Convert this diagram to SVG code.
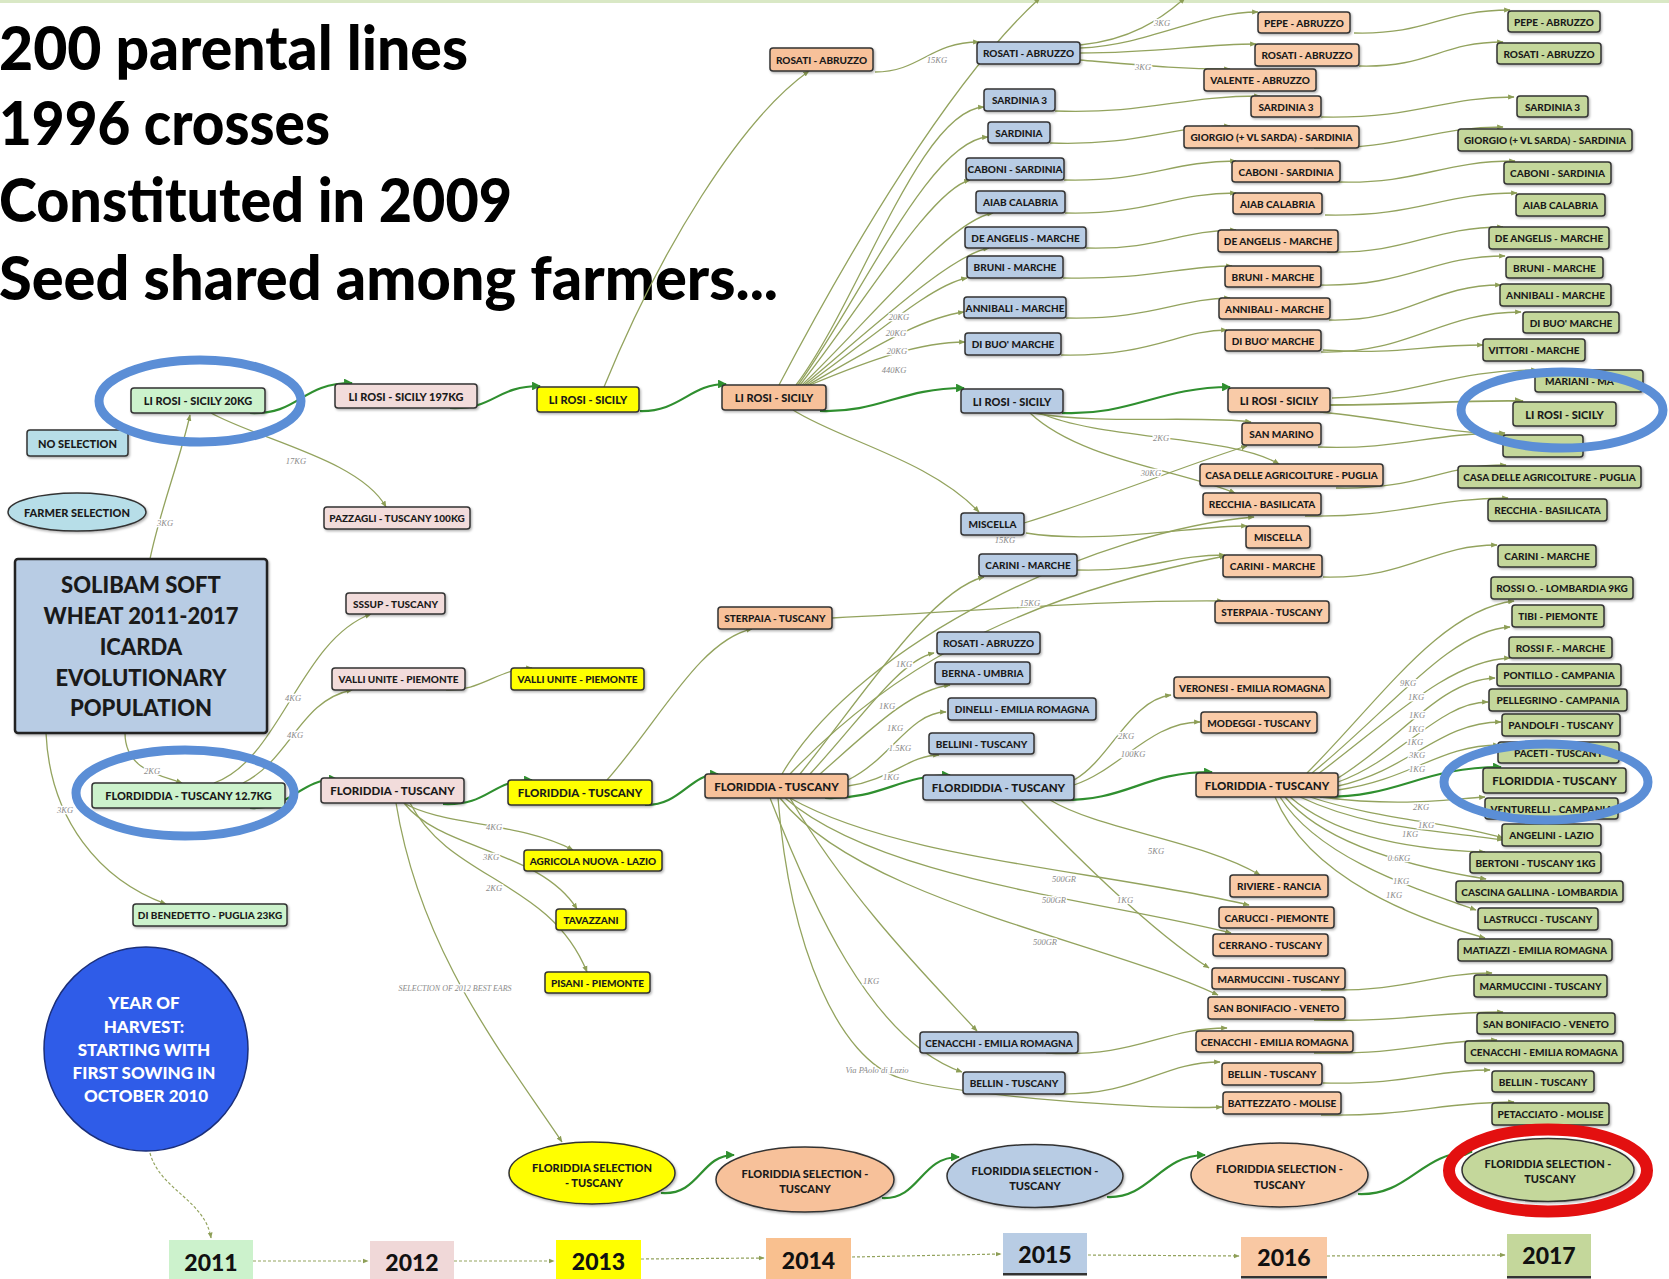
<svg xmlns="http://www.w3.org/2000/svg" width="1669" height="1279" viewBox="0 0 1669 1279">
<style>
.t{font-family:Lato,"Liberation Sans",sans-serif;font-weight:900;font-size:10px;fill:#1a1a1a;text-anchor:middle;dominant-baseline:central}
.tm{font-size:11px}
.tb{font-size:11.5px}
.b{stroke:#333;stroke-width:1.5;filter:url(#sh)}
.c11{fill:#ccf2cc}.c12{fill:#f2dcdb}.c13{fill:#ffff00}.c14{fill:#f7c19a}.c15{fill:#b8cce4}.c16{fill:#f9cba8}.c17{fill:#c4d79b}.cs{fill:#b7dee8}
.e{fill:none;stroke:#93a35e;stroke-width:1.3;marker-end:url(#a)}
.m{fill:none;stroke:#2f8f2f;stroke-width:2.2;marker-end:url(#g)}
.d{fill:none;stroke:#93a35e;stroke-width:1.2;stroke-dasharray:3 2;marker-end:url(#a)}
.l{font-family:"Liberation Serif",serif;font-style:italic;font-size:8.5px;fill:#8a8a8a;text-anchor:middle;dominant-baseline:central;stroke:#fff;stroke-width:2.5;paint-order:stroke}
.title{font-family:Lato,"Liberation Sans",sans-serif;font-weight:900;font-size:60px;fill:#000}
.yr{font-family:Lato,"Liberation Sans",sans-serif;font-weight:900;font-size:23px;fill:#111;text-anchor:middle}
.ring{fill:none;stroke:#5b8ed6;stroke-width:9}
</style>
<defs>
<marker id="a" viewBox="0 0 10 10" refX="9" refY="5" markerWidth="5" markerHeight="5" orient="auto"><path d="M0,1 L10,5 L0,9 z" fill="#8d9e56"/></marker>
<marker id="g" viewBox="0 0 10 10" refX="9" refY="5" markerWidth="4" markerHeight="4" orient="auto"><path d="M0,0 L10,5 L0,10 z" fill="#2f8f2f"/></marker>
<filter id="sh" x="-10%" y="-20%" width="130%" height="160%"><feDropShadow dx="1.2" dy="1.5" stdDeviation="1" flood-color="#000" flood-opacity="0.3"/></filter>
</defs>
<rect x="0" y="0" width="1669" height="1279" fill="#fff"/>
<rect x="0" y="0" width="1669" height="3" fill="#d9e8c5"/>

<g id="title">
<text class="title" x="-1" y="70" textLength="469" lengthAdjust="spacingAndGlyphs">200 parental lines</text>
<text class="title" x="-1" y="145" textLength="331" lengthAdjust="spacingAndGlyphs">1996 crosses</text>
<text class="title" x="-1" y="222" textLength="513" lengthAdjust="spacingAndGlyphs">Constituted in 2009</text>
<text class="title" x="-1" y="300" textLength="779" lengthAdjust="spacingAndGlyphs">Seed shared among farmers...</text>
</g>

<g id="connectors">
<path class="m" d="M250 413 C300 415,300 383,352 383"/>
<path class="m" d="M450 408 C495 410,495 386,540 386"/>
<path class="m" d="M640 411 C680 412,690 384,726 384"/>
<path class="m" d="M820 411 C880 413,900 388,964 388"/>
<path class="m" d="M1062 413 C1130 416,1160 387,1230 387"/>
<path class="m" d="M250 808 C290 810,300 779,337 779"/>
<path class="m" d="M443 804 C490 806,490 780,532 780"/>
<path class="m" d="M645 805 C680 806,690 774,718 774"/>
<path class="m" d="M825 798 C880 800,900 775,950 775"/>
<path class="m" d="M1055 800 C1130 802,1140 772,1212 772"/>
<path class="m" d="M1320 797 C1400 798,1420 767,1501 767"/>
<path class="m" d="M661 1193 C700 1196,700 1155,734 1155"/>
<path class="m" d="M882 1198 C920 1200,920 1157,959 1157"/>
<path class="m" d="M1107 1197 C1150 1199,1160 1155,1205 1155"/>
<path class="m" d="M1358 1194 C1410 1196,1420 1152,1472 1152"/>
<path class="e" d="M150 559 C160 510,180 460,190 415"/>
<path class="e" d="M211 413 C260 440,360 460,386 507"/>
<path class="e" d="M125 733 C125 770,160 775,182 783"/>
<path class="e" d="M46 733 C50 820,100 880,166 904"/>
<path class="e" d="M214 783 C280 760,300 640,371 614"/>
<path class="e" d="M243 783 C290 760,300 700,352 690"/>
<path class="e" d="M446 690 C480 692,500 668,532 668"/>
<path class="e" d="M404 803 C440 825,520 822,573 850"/>
<path class="e" d="M404 803 C440 850,540 850,577 909"/>
<path class="e" d="M410 803 C450 880,550 880,587 972"/>
<path class="e" d="M396 803 C420 950,500 1050,562 1142"/>
<path class="e" d="M604 387 C660 250,740 120,809 71"/>
<path class="e" d="M607 780 C660 720,700 640,752 629"/>
<path class="e" d="M875 72 C920 72,930 42,979 42"/>
<path class="e" d="M779 385 C850 250,950 80,1040 -2"/>
<path class="e" d="M796 385 C860 300,920 110,984 107"/>
<path class="e" d="M798 385 C860 300,930 140,988 137"/>
<path class="e" d="M800 385 C860 310,930 190,970 180"/>
<path class="e" d="M802 385 C870 320,950 220,993 213"/>
<path class="e" d="M804 385 C870 330,950 255,989 248"/>
<path class="e" d="M806 385 C870 340,930 285,967 278"/>
<path class="e" d="M808 385 C870 350,920 318,964 312"/>
<path class="e" d="M810 385 C870 360,920 342,965 342"/>
<path class="e" d="M793 410 C840 440,930 460,979 512"/>
<path class="e" d="M832 618 C1000 610,1100 600,1223 601"/>
<path class="e" d="M782 774 C860 640,1100 530,1254 517"/>
<path class="e" d="M790 774 C880 680,1000 600,1225 556"/>
<path class="e" d="M800 774 C860 700,930 590,984 577"/>
<path class="e" d="M810 774 C860 720,900 660,934 653"/>
<path class="e" d="M820 774 C870 730,910 690,950 685"/>
<path class="e" d="M848 780 C890 760,910 712,946 712"/>
<path class="e" d="M848 786 C890 780,910 755,939 755"/>
<path class="e" d="M790 798 C850 900,930 980,977 1031"/>
<path class="e" d="M770 798 C810 900,870 1040,962 1072"/>
<path class="e" d="M778 798 C790 950,840 1060,900 1078 S1150 1110,1222 1107"/>
<path class="e" d="M790 798 C900 860,1100 870,1249 905"/>
<path class="e" d="M785 798 C880 880,1100 900,1231 933"/>
<path class="e" d="M780 798 C860 900,1100 940,1218 995"/>
<path class="e" d="M1080 48 C1150 45,1200 12,1258 12"/>
<path class="e" d="M1080 53 C1160 53,1200 44,1256 44"/>
<path class="e" d="M1080 60 C1150 66,1180 69,1230 69"/>
<path class="e" d="M1080 45 C1130 40,1160 20,1185 -2"/>
<path class="e" d="M1055 111 C1150 114,1180 96,1260 96"/>
<path class="e" d="M1050 143 C1140 146,1170 126,1230 126"/>
<path class="e" d="M1064 180 C1150 182,1170 161,1236 161"/>
<path class="e" d="M1065 213 C1150 215,1170 193,1236 193"/>
<path class="e" d="M1086 248 C1160 250,1180 230,1236 230"/>
<path class="e" d="M1063 278 C1150 280,1180 266,1232 266"/>
<path class="e" d="M1066 318 C1150 320,1180 298,1230 298"/>
<path class="e" d="M1061 355 C1150 357,1180 330,1227 330"/>
<path class="e" d="M1033 413 C1100 425,1200 415,1251 422"/>
<path class="e" d="M1040 413 C1100 440,1230 435,1279 464"/>
<path class="e" d="M1030 413 C1080 460,1180 470,1235 493"/>
<path class="e" d="M1024 523 C1100 500,1200 460,1247 446"/>
<path class="e" d="M1026 533 C1100 545,1200 525,1247 526"/>
<path class="e" d="M1077 570 C1150 572,1170 555,1225 555"/>
<path class="e" d="M1074 780 C1110 760,1130 700,1171 695"/>
<path class="e" d="M1074 785 C1120 770,1150 722,1200 722"/>
<path class="e" d="M1050 800 C1100 830,1200 840,1260 875"/>
<path class="e" d="M1021 800 C1080 860,1150 930,1209 968"/>
<path class="e" d="M1046 1053 C1140 1058,1160 1028,1227 1028"/>
<path class="e" d="M1055 1094 C1140 1096,1160 1062,1220 1062"/>
<path class="e" d="M1354 33 C1430 35,1440 10,1510 10"/>
<path class="e" d="M1359 66 C1430 68,1440 42,1503 42"/>
<path class="e" d="M1321 117 C1420 119,1440 97,1514 97"/>
<path class="e" d="M1314 148 C1400 150,1430 127,1503 127"/>
<path class="e" d="M1339 182 C1420 184,1440 161,1515 161"/>
<path class="e" d="M1325 215 C1420 217,1440 193,1517 193"/>
<path class="e" d="M1327 252 C1410 254,1430 227,1503 227"/>
<path class="e" d="M1318 285 C1410 287,1430 256,1505 256"/>
<path class="e" d="M1329 320 C1410 322,1430 285,1501 285"/>
<path class="e" d="M1321 352 C1410 354,1440 312,1521 312"/>
<path class="e" d="M1323 350 C1400 355,1420 345,1483 345"/>
<path class="e" d="M1332 398 C1420 395,1450 370,1537 370"/>
<path class="e" d="M1330 405 C1420 405,1450 400,1523 401" style="stroke-width:1.8"/>
<path class="e" d="M1320 412 C1400 420,1440 432,1505 435"/>
<path class="e" d="M1318 447 C1400 450,1430 433,1505 433"/>
<path class="e" d="M1336 488 C1420 490,1440 465,1506 465"/>
<path class="e" d="M1305 516 C1400 518,1430 498,1508 498"/>
<path class="e" d="M1323 577 C1410 579,1430 545,1497 545"/>
<path class="e" d="M1307 773 C1380 700,1440 610,1514 601"/>
<path class="e" d="M1312 773 C1390 710,1450 630,1510 627"/>
<path class="e" d="M1318 774 C1390 720,1450 660,1510 658"/>
<path class="e" d="M1338 778 C1400 740,1440 680,1495 678"/>
<path class="e" d="M1338 782 C1400 760,1440 702,1488 702"/>
<path class="e" d="M1338 786 C1410 770,1440 722,1501 722"/>
<path class="e" d="M1338 790 C1410 780,1440 745,1499 745"/>
<path class="e" d="M1320 797 C1400 807,1440 800,1485 797"/>
<path class="e" d="M1310 797 C1380 820,1450 822,1503 838"/>
<path class="e" d="M1300 797 C1370 830,1440 830,1503 840"/>
<path class="e" d="M1290 797 C1340 840,1420 850,1485 852"/>
<path class="e" d="M1285 797 C1330 850,1430 870,1486 879"/>
<path class="e" d="M1280 797 C1320 860,1420 890,1476 910"/>
<path class="e" d="M1275 797 C1310 880,1420 920,1485 938"/>
<path class="e" d="M1321 990 C1410 992,1430 973,1492 973"/>
<path class="e" d="M1314 1020 C1410 1022,1430 1012,1503 1012"/>
<path class="e" d="M1314 1053 C1410 1055,1430 1040,1497 1040"/>
<path class="e" d="M1323 1083 C1410 1085,1430 1070,1490 1070"/>
<path class="e" d="M1321 1115 C1410 1117,1440 1102,1514 1102"/>
<path class="d" d="M253 1261 L368 1261"/>
<path class="d" d="M454 1261 L554 1261"/>
<path class="d" d="M641 1259 L764 1258"/>
<path class="d" d="M852 1257 L1001 1254"/>
<path class="d" d="M1088 1255 L1239 1256"/>
<path class="d" d="M1327 1256 L1505 1255"/>
<path class="d" d="M150 1153 C160 1190,205 1200,211 1238"/>
</g>

<g id="edge-labels">
<text class="l" x="165" y="523">3KG</text>
<text class="l" x="296" y="461">17KG</text>
<text class="l" x="152" y="771">2KG</text>
<text class="l" x="65" y="810">3KG</text>
<text class="l" x="293" y="698">4KG</text>
<text class="l" x="295" y="735">4KG</text>
<text class="l" x="494" y="827">4KG</text>
<text class="l" x="491" y="857">3KG</text>
<text class="l" x="494" y="888">2KG</text>
<text class="l" x="455" y="988" style="font-size:8px">SELECTION OF 2012 BEST EARS</text>
<text class="l" x="937" y="60">15KG</text>
<text class="l" x="899" y="317">20KG</text>
<text class="l" x="896" y="333">20KG</text>
<text class="l" x="897" y="351">20KG</text>
<text class="l" x="894" y="370">440KG</text>
<text class="l" x="1162" y="23">3KG</text>
<text class="l" x="1143" y="67">3KG</text>
<text class="l" x="1161" y="438">2KG</text>
<text class="l" x="1151" y="473">30KG</text>
<text class="l" x="1005" y="540">15KG</text>
<text class="l" x="1030" y="603">15KG</text>
<text class="l" x="904" y="664">1KG</text>
<text class="l" x="887" y="706">1KG</text>
<text class="l" x="895" y="728">1KG</text>
<text class="l" x="900" y="748">1.5KG</text>
<text class="l" x="891" y="777">1KG</text>
<text class="l" x="1126" y="736">2KG</text>
<text class="l" x="1133" y="754">100KG</text>
<text class="l" x="1156" y="851">5KG</text>
<text class="l" x="1064" y="879">500GR</text>
<text class="l" x="1054" y="900">500GR</text>
<text class="l" x="1045" y="942">500GR</text>
<text class="l" x="1125" y="900">1KG</text>
<text class="l" x="871" y="981">1KG</text>
<text class="l" x="877" y="1070">Via PAolo di Lazio</text>
<text class="l" x="1408" y="683">9KG</text>
<text class="l" x="1416" y="697">1KG</text>
<text class="l" x="1417" y="715">1KG</text>
<text class="l" x="1416" y="729">1KG</text>
<text class="l" x="1415" y="742">1KG</text>
<text class="l" x="1417" y="755">3KG</text>
<text class="l" x="1417" y="769">1KG</text>
<text class="l" x="1421" y="807">2KG</text>
<text class="l" x="1426" y="825">1KG</text>
<text class="l" x="1410" y="834">1KG</text>
<text class="l" x="1399" y="858">0.6KG</text>
<text class="l" x="1401" y="881">1KG</text>
<text class="l" x="1394" y="895">1KG</text>
</g>

<g id="n_lirosi_2011"><rect class="b c11" x="131" y="388" width="134" height="25" rx="3"/><text class="t tm" x="198" y="400.5">LI ROSI - SICILY 20KG</text></g>
<g id="n_flord_2011"><rect class="b c11" x="92" y="783" width="193" height="25" rx="3"/><text class="t tm" x="188.5" y="795.5">FLORDIDDIA - TUSCANY 12.7KG</text></g>
<g id="n_dibenedetto_2011"><rect class="b c11" x="133" y="904" width="154" height="22" rx="3"/><text class="t" x="210" y="915">DI BENEDETTO - PUGLIA 23KG</text></g>
<g id="n_noselection"><rect class="b cs" x="27" y="430" width="101" height="26" rx="3"/><text class="t tm" x="77.5" y="443">NO SELECTION</text></g>
<g id="n_farmerselection"><ellipse class="b cs" cx="77" cy="512" rx="69" ry="19"/><text class="t tm" x="77" y="512">FARMER SELECTION</text></g>
<g id="n_solibam"><rect x="15" y="559" width="252" height="174" rx="3" fill="#b8cce4" stroke="#222" stroke-width="2.5" filter="url(#sh)"/>
<text class="t" style="font-size:22px;dominant-baseline:auto" x="141" y="593">SOLIBAM SOFT</text>
<text class="t" style="font-size:22px;dominant-baseline:auto" x="141" y="624">WHEAT 2011-2017</text>
<text class="t" style="font-size:22px;dominant-baseline:auto" x="141" y="655">ICARDA</text>
<text class="t" style="font-size:22px;dominant-baseline:auto" x="141" y="686">EVOLUTIONARY</text>
<text class="t" style="font-size:22px;dominant-baseline:auto" x="141" y="716">POPULATION</text></g>
<g id="n_yearcircle"><circle cx="146" cy="1049" r="102" fill="#2f5ce8" stroke="#1b2f7a" stroke-width="1.5"/>
<text class="t" style="font-size:17px;fill:#fff;dominant-baseline:auto" x="144" y="1009">YEAR OF</text>
<text class="t" style="font-size:17px;fill:#fff;dominant-baseline:auto" x="144" y="1033">HARVEST:</text>
<text class="t" style="font-size:17px;fill:#fff;dominant-baseline:auto" x="144" y="1056">STARTING WITH</text>
<text class="t" style="font-size:17px;fill:#fff;dominant-baseline:auto" x="144" y="1079">FIRST SOWING IN</text>
<text class="t" style="font-size:17px;fill:#fff;dominant-baseline:auto" x="146" y="1102">OCTOBER 2010</text></g>

<g id="n_lirosi_2012"><rect class="b c12" x="335" y="384" width="142" height="24" rx="3"/><text class="t tm" x="406" y="396">LI ROSI - SICILY 197KG</text></g>
<g id="n_pazzagli_2012"><rect class="b c12" x="324" y="507" width="146" height="22" rx="3"/><text class="t" x="397" y="518">PAZZAGLI - TUSCANY 100KG</text></g>
<g id="n_sssup_2012"><rect class="b c12" x="346" y="593" width="99" height="21" rx="3"/><text class="t" x="395.5" y="603.5">SSSUP - TUSCANY</text></g>
<g id="n_valli_2012"><rect class="b c12" x="332" y="668" width="133" height="22" rx="3"/><text class="t" x="398.5" y="679">VALLI UNITE - PIEMONTE</text></g>
<g id="n_floriddia_2012"><rect class="b c12" x="321" y="778" width="143" height="25" rx="3"/><text class="t tb" x="392.5" y="790.5">FLORIDDIA - TUSCANY</text></g>

<g id="n_lirosi_2013"><rect class="b c13" x="537" y="387" width="102" height="25" rx="3"/><text class="t tm" x="588" y="399.5">LI ROSI - SICILY</text></g>
<g id="n_valli_2013"><rect class="b c13" x="511" y="668" width="133" height="22" rx="3"/><text class="t" x="577.5" y="679">VALLI UNITE - PIEMONTE</text></g>
<g id="n_floriddia_2013"><rect class="b c13" x="508" y="780" width="144" height="25" rx="3"/><text class="t tb" x="580" y="792.5">FLORIDDIA - TUSCANY</text></g>
<g id="n_agricola_2013"><rect class="b c13" x="524" y="850" width="138" height="21" rx="3"/><text class="t" x="593" y="860.5">AGRICOLA NUOVA - LAZIO</text></g>
<g id="n_tavazzani_2013"><rect class="b c13" x="556" y="909" width="70" height="21" rx="3"/><text class="t" x="591" y="919.5">TAVAZZANI</text></g>
<g id="n_pisani_2013"><rect class="b c13" x="545" y="972" width="105" height="21" rx="3"/><text class="t" x="597.5" y="982.5">PISANI - PIEMONTE</text></g>
<g id="n_sel_2013"><ellipse class="b c13" cx="592" cy="1173" rx="83" ry="31"/><text class="t tm" x="592" y="1167">FLORIDDIA SELECTION</text><text class="t tm" x="594" y="1182">- TUSCANY</text></g>

<g id="n_rosati_2014"><rect class="b c14" x="770" y="48" width="103" height="23" rx="3"/><text class="t" x="821.5" y="59.5">ROSATI - ABRUZZO</text></g>
<g id="n_lirosi_2014"><rect class="b c14" x="722" y="385" width="104" height="25" rx="3"/><text class="t tm" x="774" y="397.5">LI ROSI - SICILY</text></g>
<g id="n_sterpaia_2014"><rect class="b c14" x="718" y="607" width="114" height="22" rx="3"/><text class="t" x="775" y="618">STERPAIA - TUSCANY</text></g>
<g id="n_floriddia_2014"><rect class="b c14" x="705" y="774" width="143" height="24" rx="3"/><text class="t tb" x="776.5" y="786">FLORIDDIA - TUSCANY</text></g>
<g id="n_sel_2014"><ellipse class="b c14" cx="805" cy="1179.5" rx="89" ry="32.5"/><text class="t tm" x="805" y="1173">FLORIDDIA SELECTION -</text><text class="t tm" x="805" y="1188">TUSCANY</text></g>

<g id="n_rosati_2015"><rect class="b c15" x="977" y="42" width="103" height="22" rx="3"/><text class="t" x="1028.5" y="53">ROSATI - ABRUZZO</text></g>
<g id="n_sardinia3_2015"><rect class="b c15" x="984" y="89" width="71" height="22" rx="3"/><text class="t" x="1019.5" y="100">SARDINIA 3</text></g>
<g id="n_sardinia_2015"><rect class="b c15" x="988" y="122" width="62" height="21" rx="3"/><text class="t" x="1019" y="132.5">SARDINIA</text></g>
<g id="n_caboni_2015"><rect class="b c15" x="966" y="158" width="98" height="22" rx="3"/><text class="t" x="1015" y="169">CABONI - SARDINIA</text></g>
<g id="n_aiab_2015"><rect class="b c15" x="976" y="191" width="89" height="22" rx="3"/><text class="t" x="1020.5" y="202">AIAB CALABRIA</text></g>
<g id="n_deangelis_2015"><rect class="b c15" x="965" y="227" width="121" height="21" rx="3"/><text class="t" x="1025.5" y="237.5">DE ANGELIS - MARCHE</text></g>
<g id="n_bruni_2015"><rect class="b c15" x="967" y="256" width="96" height="22" rx="3"/><text class="t" x="1015" y="267">BRUNI - MARCHE</text></g>
<g id="n_annibali_2015"><rect class="b c15" x="964" y="297" width="102" height="21" rx="3"/><text class="t" x="1015" y="307.5">ANNIBALI - MARCHE</text></g>
<g id="n_dibuo_2015"><rect class="b c15" x="965" y="333" width="96" height="22" rx="3"/><text class="t" x="1013" y="344">DI BUO' MARCHE</text></g>
<g id="n_lirosi_2015"><rect class="b c15" x="961" y="389" width="102" height="24" rx="3"/><text class="t tm" x="1012" y="401">LI ROSI - SICILY</text></g>
<g id="n_miscella_2015"><rect class="b c15" x="961" y="513" width="63" height="22" rx="3"/><text class="t" x="992.5" y="524">MISCELLA</text></g>
<g id="n_carini_2015"><rect class="b c15" x="979" y="554" width="98" height="22" rx="3"/><text class="t" x="1028" y="565">CARINI - MARCHE</text></g>
<g id="n_rosati2_2015"><rect class="b c15" x="937" y="632" width="103" height="22" rx="3"/><text class="t" x="988.5" y="643">ROSATI - ABRUZZO</text></g>
<g id="n_berna_2015"><rect class="b c15" x="935" y="662" width="95" height="22" rx="3"/><text class="t" x="982.5" y="673">BERNA - UMBRIA</text></g>
<g id="n_dinelli_2015"><rect class="b c15" x="948" y="698" width="148" height="22" rx="3"/><text class="t" x="1022" y="709">DINELLI - EMILIA ROMAGNA</text></g>
<g id="n_bellini_2015"><rect class="b c15" x="929" y="733" width="105" height="21" rx="3"/><text class="t" x="981.5" y="743.5">BELLINI - TUSCANY</text></g>
<g id="n_flord_2015"><rect class="b c15" x="923" y="775" width="151" height="25" rx="3"/><text class="t tb" x="998.5" y="787.5">FLORDIDDIA - TUSCANY</text></g>
<g id="n_cenacchi_2015"><rect class="b c15" x="920" y="1032" width="158" height="21" rx="3"/><text class="t" x="999" y="1042.5">CENACCHI - EMILIA ROMAGNA</text></g>
<g id="n_bellin_2015"><rect class="b c15" x="963" y="1072" width="102" height="22" rx="3"/><text class="t" x="1014" y="1083">BELLIN - TUSCANY</text></g>
<g id="n_sel_2015"><ellipse class="b c15" cx="1035" cy="1176" rx="88" ry="31.5"/><text class="t tm" x="1035" y="1170">FLORIDDIA SELECTION -</text><text class="t tm" x="1035" y="1185">TUSCANY</text></g>

<g id="n_pepe_2016"><rect class="b c16" x="1258" y="12" width="92" height="21" rx="3"/><text class="t" x="1304" y="22.5">PEPE - ABRUZZO</text></g>
<g id="n_rosati_2016"><rect class="b c16" x="1255" y="44" width="104" height="22" rx="3"/><text class="t" x="1307" y="55">ROSATI - ABRUZZO</text></g>
<g id="n_valente_2016"><rect class="b c16" x="1204" y="69" width="112" height="22" rx="3"/><text class="t" x="1260" y="80">VALENTE - ABRUZZO</text></g>
<g id="n_sardinia3_2016"><rect class="b c16" x="1251" y="96" width="70" height="21" rx="3"/><text class="t" x="1286" y="106.5">SARDINIA 3</text></g>
<g id="n_giorgio_2016"><rect class="b c16" x="1184" y="126" width="175" height="22" rx="3"/><text class="t" x="1271.5" y="137">GIORGIO (+ VL SARDA) - SARDINIA</text></g>
<g id="n_caboni_2016"><rect class="b c16" x="1232" y="161" width="108" height="21" rx="3"/><text class="t" x="1286" y="171.5">CABONI - SARDINIA</text></g>
<g id="n_aiab_2016"><rect class="b c16" x="1233" y="193" width="89" height="21" rx="3"/><text class="t" x="1277.5" y="203.5">AIAB CALABRIA</text></g>
<g id="n_deangelis_2016"><rect class="b c16" x="1218" y="230" width="120" height="22" rx="3"/><text class="t" x="1278" y="241">DE ANGELIS - MARCHE</text></g>
<g id="n_bruni_2016"><rect class="b c16" x="1225" y="266" width="96" height="21" rx="3"/><text class="t" x="1273" y="276.5">BRUNI - MARCHE</text></g>
<g id="n_annibali_2016"><rect class="b c16" x="1219" y="298" width="111" height="21" rx="3"/><text class="t" x="1274.5" y="308.5">ANNIBALI - MARCHE</text></g>
<g id="n_dibuo_2016"><rect class="b c16" x="1225" y="330" width="96" height="21" rx="3"/><text class="t" x="1273" y="340.5">DI BUO' MARCHE</text></g>
<g id="n_lirosi_2016"><rect class="b c16" x="1228" y="388" width="102" height="24" rx="3"/><text class="t tm" x="1279" y="400">LI ROSI - SICILY</text></g>
<g id="n_sanmarino_2016"><rect class="b c16" x="1242" y="423" width="79" height="22" rx="3"/><text class="t" x="1281.5" y="434">SAN MARINO</text></g>
<g id="n_casa_2016"><rect class="b c16" x="1200" y="464" width="183" height="22" rx="3"/><text class="t" x="1291.5" y="475">CASA DELLE AGRICOLTURE - PUGLIA</text></g>
<g id="n_recchia_2016"><rect class="b c16" x="1203" y="493" width="118" height="22" rx="3"/><text class="t" x="1262" y="504">RECCHIA - BASILICATA</text></g>
<g id="n_miscella_2016"><rect class="b c16" x="1246" y="526" width="64" height="22" rx="3"/><text class="t" x="1278" y="537">MISCELLA</text></g>
<g id="n_carini_2016"><rect class="b c16" x="1223" y="555" width="99" height="22" rx="3"/><text class="t" x="1272.5" y="566">CARINI - MARCHE</text></g>
<g id="n_sterpaia_2016"><rect class="b c16" x="1215" y="601" width="114" height="22" rx="3"/><text class="t" x="1272" y="612">STERPAIA - TUSCANY</text></g>
<g id="n_veronesi_2016"><rect class="b c16" x="1174" y="677" width="156" height="21" rx="3"/><text class="t" x="1252" y="687.5">VERONESI - EMILIA ROMAGNA</text></g>
<g id="n_modeggi_2016"><rect class="b c16" x="1201" y="712" width="116" height="21" rx="3"/><text class="t" x="1259" y="722.5">MODEGGI - TUSCANY</text></g>
<g id="n_floriddia_2016"><rect class="b c16" x="1196" y="773" width="142" height="24" rx="3"/><text class="t tb" x="1267" y="785">FLORIDDIA - TUSCANY</text></g>
<g id="n_riviere_2016"><rect class="b c16" x="1230" y="875" width="98" height="22" rx="3"/><text class="t" x="1279" y="886">RIVIERE - RANCIA</text></g>
<g id="n_carucci_2016"><rect class="b c16" x="1219" y="907" width="115" height="21" rx="3"/><text class="t" x="1276.5" y="917.5">CARUCCI - PIEMONTE</text></g>
<g id="n_cerrano_2016"><rect class="b c16" x="1213" y="934" width="115" height="22" rx="3"/><text class="t" x="1270.5" y="945">CERRANO - TUSCANY</text></g>
<g id="n_marmuccini_2016"><rect class="b c16" x="1212" y="968" width="133" height="21" rx="3"/><text class="t" x="1278.5" y="978.5">MARMUCCINI - TUSCANY</text></g>
<g id="n_sanbonifacio_2016"><rect class="b c16" x="1208" y="997" width="137" height="22" rx="3"/><text class="t" x="1276.5" y="1008">SAN BONIFACIO - VENETO</text></g>
<g id="n_cenacchi_2016"><rect class="b c16" x="1196" y="1031" width="157" height="21" rx="3"/><text class="t" x="1274.5" y="1041.5">CENACCHI - EMILIA ROMAGNA</text></g>
<g id="n_bellin_2016"><rect class="b c16" x="1222" y="1063" width="100" height="22" rx="3"/><text class="t" x="1272" y="1074">BELLIN - TUSCANY</text></g>
<g id="n_battezzato_2016"><rect class="b c16" x="1223" y="1092" width="118" height="22" rx="3"/><text class="t" x="1282" y="1103">BATTEZZATO - MOLISE</text></g>
<g id="n_sel_2016"><ellipse class="b c16" cx="1279.5" cy="1175" rx="88.5" ry="32"/><text class="t tm" x="1279.5" y="1168">FLORIDDIA SELECTION -</text><text class="t tm" x="1279.5" y="1184">TUSCANY</text></g>

<g id="n_pepe_2017"><rect class="b c17" x="1508" y="11" width="92" height="21" rx="3"/><text class="t" x="1554" y="21.5">PEPE - ABRUZZO</text></g>
<g id="n_rosati_2017"><rect class="b c17" x="1497" y="43" width="104" height="21" rx="3"/><text class="t" x="1549" y="53.5">ROSATI - ABRUZZO</text></g>
<g id="n_sardinia3_2017"><rect class="b c17" x="1517" y="96" width="71" height="21" rx="3"/><text class="t" x="1552.5" y="106.5">SARDINIA 3</text></g>
<g id="n_giorgio_2017"><rect class="b c17" x="1458" y="129" width="174" height="22" rx="3"/><text class="t" x="1545" y="140">GIORGIO (+ VL SARDA) - SARDINIA</text></g>
<g id="n_caboni_2017"><rect class="b c17" x="1504" y="162" width="107" height="22" rx="3"/><text class="t" x="1557.5" y="173">CABONI - SARDINIA</text></g>
<g id="n_aiab_2017"><rect class="b c17" x="1516" y="194" width="89" height="22" rx="3"/><text class="t" x="1560.5" y="205">AIAB CALABRIA</text></g>
<g id="n_deangelis_2017"><rect class="b c17" x="1489" y="227" width="120" height="22" rx="3"/><text class="t" x="1549" y="238">DE ANGELIS - MARCHE</text></g>
<g id="n_bruni_2017"><rect class="b c17" x="1506" y="257" width="97" height="21" rx="3"/><text class="t" x="1554.5" y="267.5">BRUNI - MARCHE</text></g>
<g id="n_annibali_2017"><rect class="b c17" x="1500" y="284" width="111" height="22" rx="3"/><text class="t" x="1555.5" y="295">ANNIBALI - MARCHE</text></g>
<g id="n_dibuo_2017"><rect class="b c17" x="1523" y="312" width="96" height="21" rx="3"/><text class="t" x="1571" y="322.5">DI BUO' MARCHE</text></g>
<g id="n_vittori_2017"><rect class="b c17" x="1483" y="339" width="102" height="22" rx="3"/><text class="t" x="1534" y="350">VITTORI - MARCHE</text></g>
<g id="n_mariani_2017"><rect class="b c17" x="1535" y="370" width="108" height="22" rx="3"/><text class="t" style="text-anchor:start" x="1545" y="381">MARIANI - MA</text></g>
<g id="n_hidden_2017"><rect class="b c17" x="1503" y="435" width="80" height="22" rx="3"/></g>
<g id="n_lirosi_2017"><rect class="b c17" x="1513" y="402" width="103" height="24" rx="3"/><text class="t tm" x="1564.5" y="414">LI ROSI - SICILY</text></g>
<g id="n_casa_2017"><rect class="b c17" x="1458" y="466" width="183" height="22" rx="3"/><text class="t" x="1549.5" y="477">CASA DELLE AGRICOLTURE - PUGLIA</text></g>
<g id="n_recchia_2017"><rect class="b c17" x="1488" y="499" width="119" height="22" rx="3"/><text class="t" x="1547.5" y="510">RECCHIA - BASILICATA</text></g>
<g id="n_carini_2017"><rect class="b c17" x="1498" y="545" width="98" height="22" rx="3"/><text class="t" x="1547" y="556">CARINI - MARCHE</text></g>
<g id="n_rossio_2017"><rect class="b c17" x="1491" y="577" width="142" height="22" rx="3"/><text class="t" x="1562" y="588">ROSSI O. - LOMBARDIA 9KG</text></g>
<g id="n_tibi_2017"><rect class="b c17" x="1512" y="605" width="92" height="22" rx="3"/><text class="t" x="1558" y="616">TIBI - PIEMONTE</text></g>
<g id="n_rossif_2017"><rect class="b c17" x="1509" y="637" width="103" height="21" rx="3"/><text class="t" x="1560.5" y="647.5">ROSSI F. - MARCHE</text></g>
<g id="n_pontillo_2017"><rect class="b c17" x="1497" y="664" width="124" height="22" rx="3"/><text class="t" x="1559" y="675">PONTILLO - CAMPANIA</text></g>
<g id="n_pellegrino_2017"><rect class="b c17" x="1489" y="689" width="138" height="22" rx="3"/><text class="t" x="1558" y="700">PELLEGRINO - CAMPANIA</text></g>
<g id="n_pandolfi_2017"><rect class="b c17" x="1502" y="714" width="118" height="22" rx="3"/><text class="t" x="1561" y="725">PANDOLFI - TUSCANY</text></g>
<g id="n_paceti_2017"><rect class="b c17" x="1498" y="742" width="121" height="21" rx="3"/><text class="t" x="1558.5" y="752.5">PACETI - TUSCANY</text></g>
<g id="n_venturelli_2017"><rect class="b c17" x="1485" y="798" width="133" height="21" rx="3"/><text class="t" x="1551.5" y="808.5">VENTURELLI - CAMPANIA</text></g>
<g id="n_floriddia_2017"><rect class="b c17" x="1483" y="768" width="143" height="25" rx="3"/><text class="t tb" x="1554.5" y="780.5">FLORIDDIA - TUSCANY</text></g>
<g id="n_angelini_2017"><rect class="b c17" x="1502" y="824" width="99" height="22" rx="3"/><text class="t" x="1551.5" y="835">ANGELINI - LAZIO</text></g>
<g id="n_bertoni_2017"><rect class="b c17" x="1470" y="852" width="131" height="21" rx="3"/><text class="t" x="1535.5" y="862.5">BERTONI - TUSCANY 1KG</text></g>
<g id="n_cascina_2017"><rect class="b c17" x="1456" y="881" width="167" height="21" rx="3"/><text class="t" x="1539.5" y="891.5">CASCINA GALLINA - LOMBARDIA</text></g>
<g id="n_lastrucci_2017"><rect class="b c17" x="1478" y="908" width="120" height="22" rx="3"/><text class="t" x="1538" y="919">LASTRUCCI - TUSCANY</text></g>
<g id="n_matiazzi_2017"><rect class="b c17" x="1458" y="939" width="154" height="22" rx="3"/><text class="t" x="1535" y="950">MATIAZZI - EMILIA ROMAGNA</text></g>
<g id="n_marmuccini_2017"><rect class="b c17" x="1474" y="975" width="133" height="22" rx="3"/><text class="t" x="1540.5" y="986">MARMUCCINI - TUSCANY</text></g>
<g id="n_sanbonifacio_2017"><rect class="b c17" x="1477" y="1013" width="138" height="21" rx="3"/><text class="t" x="1546" y="1023.5">SAN BONIFACIO - VENETO</text></g>
<g id="n_cenacchi_2017"><rect class="b c17" x="1465" y="1041" width="158" height="22" rx="3"/><text class="t" x="1544" y="1052">CENACCHI - EMILIA ROMAGNA</text></g>
<g id="n_bellin_2017"><rect class="b c17" x="1492" y="1071" width="102" height="21" rx="3"/><text class="t" x="1543" y="1081.5">BELLIN - TUSCANY</text></g>
<g id="n_petacciato_2017"><rect class="b c17" x="1492" y="1103" width="117" height="22" rx="3"/><text class="t" x="1550.5" y="1114">PETACCIATO - MOLISE</text></g>
<g id="n_sel_2017"><ellipse class="b c17" cx="1548" cy="1170" rx="86" ry="31.5"/><text class="t tm" x="1548" y="1163">FLORIDDIA SELECTION -</text><text class="t tm" x="1550" y="1178">TUSCANY</text></g>

<g id="y2011"><rect x="169" y="1240" width="84" height="39" fill="#ccf2cc"/><text class="yr" x="211" y="1271">2011</text></g>
<g id="y2012"><rect x="370" y="1241" width="84" height="38" fill="#f0d8d8"/><text class="yr" x="412" y="1271">2012</text></g>
<g id="y2013"><rect x="556" y="1240" width="85" height="39" fill="#ffff00"/><text class="yr" x="598.5" y="1270">2013</text></g>
<g id="y2014"><rect x="766" y="1238" width="85" height="41" fill="#f9c08f"/><text class="yr" x="808.5" y="1269">2014</text></g>
<g id="y2015"><rect x="1003" y="1233" width="84" height="41" fill="#b8cce4"/><rect x="1003" y="1273" width="84" height="2.5" fill="#333"/><text class="yr" x="1045" y="1263">2015</text></g>
<g id="y2016"><rect x="1241" y="1237" width="86" height="40" fill="#f9c8a3"/><rect x="1241" y="1276" width="86" height="2.5" fill="#333"/><text class="yr" x="1284" y="1266">2016</text></g>
<g id="y2017"><rect x="1507" y="1234" width="84" height="42" fill="#c4d79b"/><rect x="1507" y="1276" width="84" height="2.5" fill="#333"/><text class="yr" x="1549" y="1264">2017</text></g>

<g id="highlights">
<ellipse class="ring" cx="200" cy="401" rx="101" ry="41"/>
<ellipse class="ring" cx="185" cy="793" rx="109" ry="43"/>
<ellipse class="ring" cx="1562" cy="410" rx="101" ry="38"/>
<ellipse class="ring" cx="1546" cy="782" rx="102" ry="38"/>
<ellipse cx="1548" cy="1170.5" rx="99" ry="41" fill="none" stroke="#e31010" stroke-width="12"/>
</g>
</svg>
